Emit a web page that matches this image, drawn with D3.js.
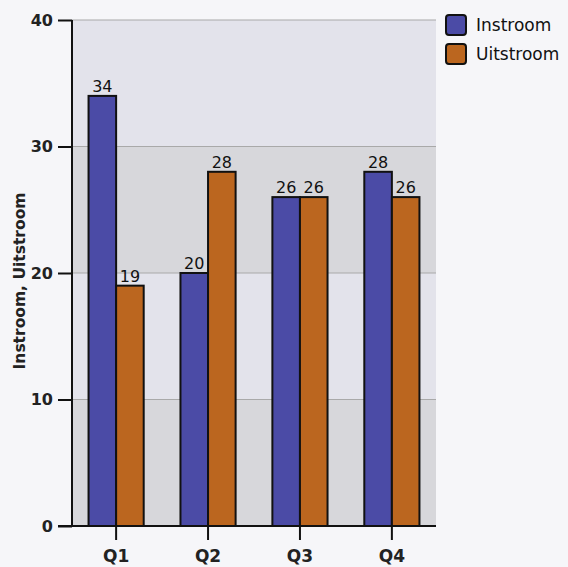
<!DOCTYPE html>
<html>
<head>
<meta charset="utf-8">
<script src="https://cdn.jsdelivr.net/npm/d3@7.9.0/dist/d3.min.js"></script>
<style>
  body { margin: 0; background: #f6f6f9; }
  svg { display: block; font-family: "DejaVu Sans", Verdana, sans-serif; }
</style>
</head>
<body>
<div id="chart"></div>
<script>
// Data
const quarters = ['Q1', 'Q2', 'Q3', 'Q4'];
const series = ['Instroom', 'Uitstroom'];
const instroom = [34, 20, 26, 28];
const uitstroom = [19, 28, 26, 26];
const yTicks = [0, 10, 20, 30, 40];

const width = 568, height = 567;
const plot = { left: 72, right: 436, top: 20, bottom: 526 };
const colors = { Instroom: '#4b4ba6', Uitstroom: '#bb661f' };

const svg = d3.select('#chart').append('svg')
  .attr('width', width)
  .attr('height', height);

const x = d3.scaleBand()
  .domain(quarters)
  .range([plot.left, plot.right])
  .paddingInner(0.4)
  .paddingOuter(0.18);

const x1 = d3.scaleBand()
  .domain(series)
  .range([0, x.bandwidth()]);

const y = d3.scaleLinear().domain([0, 40]).range([plot.bottom, plot.top]);

// Banded background
const bands = d3.pairs(yTicks);
svg.append('g')
  .selectAll('rect')
  .data(bands)
  .join('rect')
  .attr('x', plot.left)
  .attr('y', d => y(d[1]))
  .attr('width', plot.right - plot.left)
  .attr('height', d => y(d[0]) - y(d[1]))
  .attr('fill', (d, i) => i % 2 === 0 ? '#d7d7db' : '#e3e3eb');

// Gridlines
svg.append('g')
  .selectAll('line')
  .data(yTicks.slice(1))
  .join('line')
  .attr('x1', plot.left)
  .attr('x2', plot.right)
  .attr('y1', d => y(d))
  .attr('y2', d => y(d))
  .attr('stroke', '#a9a9a9')
  .attr('stroke-width', 1);

// Bars
const rows = quarters.map((q, i) => ({ q, values: [
  { key: 'Instroom', value: instroom[i] },
  { key: 'Uitstroom', value: uitstroom[i] }
]}));

const groups = svg.append('g')
  .selectAll('g')
  .data(rows)
  .join('g')
  .attr('transform', d => `translate(${x(d.q)},0)`);

groups.selectAll('rect')
  .data(d => d.values)
  .join('rect')
  .attr('x', d => x1(d.key))
  .attr('y', d => y(d.value))
  .attr('width', x1.bandwidth())
  .attr('height', d => y(0) - y(d.value))
  .attr('fill', d => colors[d.key])
  .attr('stroke', '#111')
  .attr('stroke-width', 2);

groups.selectAll('text')
  .data(d => d.values)
  .join('text')
  .attr('x', d => x1(d.key) + x1.bandwidth() / 2)
  .attr('y', d => y(d.value) - 4)
  .attr('text-anchor', 'middle')
  .attr('font-size', 16)
  .attr('fill', '#111')
  .text(d => d.value);

// Axes
const yAxis = svg.append('g')
  .attr('transform', `translate(${plot.left},0)`)
  .call(d3.axisLeft(y).tickValues(yTicks).tickSize(14).tickPadding(5));
yAxis.select('.domain').attr('stroke', '#111').attr('stroke-width', 2)
  .attr('d', `M0,${plot.top}V${plot.bottom}`);
yAxis.selectAll('.tick line').attr('stroke', '#111').attr('stroke-width', 2);
yAxis.selectAll('.tick text')
  .attr('font-size', 16).attr('font-weight', 'bold').attr('fill', '#222')
  .attr('font-family', '"DejaVu Sans", Verdana, sans-serif');

const xAxis = svg.append('g')
  .attr('transform', `translate(0,${plot.bottom})`)
  .call(d3.axisBottom(x).tickSize(14).tickPadding(10));
xAxis.select('.domain').attr('stroke', '#111').attr('stroke-width', 2)
  .attr('d', `M${plot.left - 14},0H${plot.right}`);
xAxis.selectAll('.tick line').attr('stroke', '#111').attr('stroke-width', 2);
xAxis.selectAll('.tick text')
  .attr('font-size', 17).attr('font-weight', 'bold').attr('fill', '#222')
  .attr('font-family', '"DejaVu Sans", Verdana, sans-serif');

// Y axis title
svg.append('text')
  .attr('transform', `translate(25,281) rotate(-90)`)
  .attr('text-anchor', 'middle')
  .attr('font-size', 15.5)
  .attr('font-weight', 'bold')
  .attr('fill', '#222')
  .text('Instroom, Uitstroom');

// Legend
const legend = svg.append('g')
  .selectAll('g')
  .data(series)
  .join('g')
  .attr('transform', (d, i) => `translate(446,${15 + i * 29})`);

legend.append('rect')
  .attr('width', 20)
  .attr('height', 20)
  .attr('rx', 3)
  .attr('fill', d => colors[d])
  .attr('stroke', '#111')
  .attr('stroke-width', 2);

legend.append('text')
  .attr('x', 30)
  .attr('y', 16)
  .attr('font-size', 17)
  .attr('fill', '#111')
  .text(d => d);
</script>
</body>
</html>
